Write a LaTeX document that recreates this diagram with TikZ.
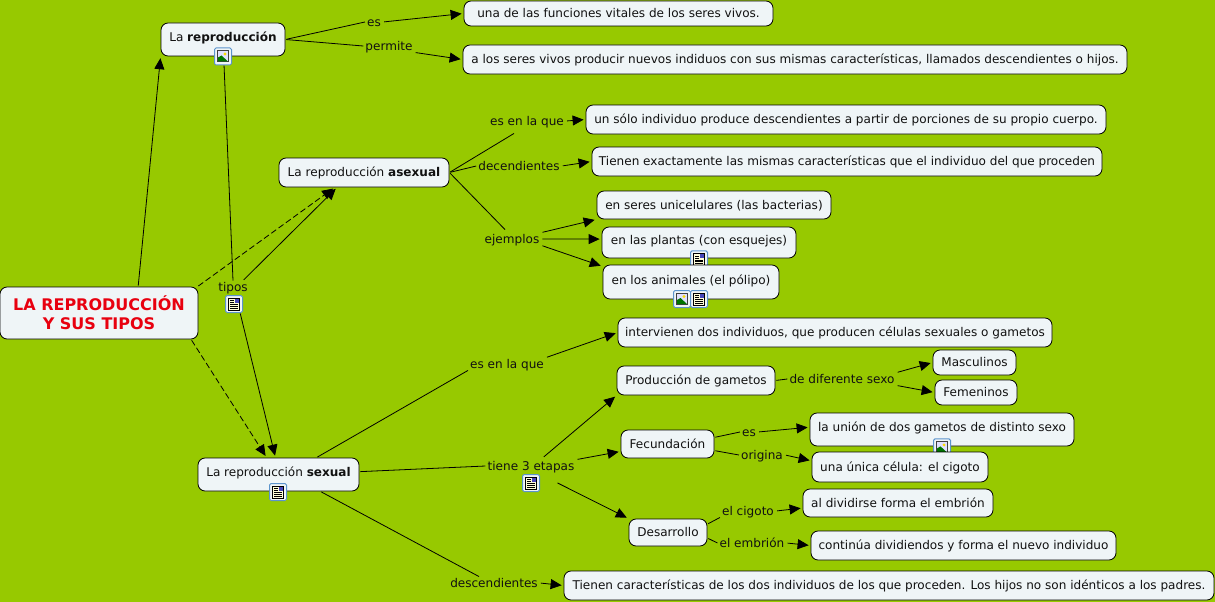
\documentclass[tikz,border=0pt]{standalone}
\usepackage{fontspec}
\setmainfont{DejaVu Sans}
\usepackage{tikz}
\usetikzlibrary{arrows.meta}
\definecolor{mapgreen}{HTML}{97C900}
\definecolor{boxpale}{HTML}{EFF5F7}
\definecolor{maptext}{HTML}{111111}
\definecolor{mapred}{HTML}{E8000F}
\definecolor{iconblue}{HTML}{5C94CC}
\tikzset{
  concept/.style={draw=black,fill=boxpale,rounded corners=2.5mm,line width=0.8pt,text=maptext,font=\fontsize{12.05}{14}\selectfont,inner sep=0pt,text height=8.5pt,text depth=0pt},
  withicon/.style={text depth=4pt},
  linklabel/.style={text=maptext,font=\fontsize{12.05}{14}\selectfont,inner sep=2pt,text height=8.5pt,text depth=0pt},
  link/.style={line width=0.8pt,shorten <=1pt},
  linkto/.style={link,-{Triangle[length=11pt,width=10pt]},shorten >=2pt},
  dashlink/.style={linkto,dash pattern=on 6pt off 3pt},
  imgicon/.pic={
    \draw[iconblue,fill=boxpale,rounded corners=1.5pt,line width=1pt] (-8.5,-8.5) rectangle (8.5,8.5);
    \fill[black!75] (-6,-6) rectangle (6,6);
    \fill[blue!12] (-5,-5) rectangle (5,5);
    \fill[yellow!80!orange] (2,-2.5) circle (1.6);
    \fill[green!45!black] (-5,5) -- (-5,1) -- (-1.5,-1) -- (5,5) -- cycle;
  },
  docicon/.pic={
    \draw[iconblue,fill=boxpale,rounded corners=1.5pt,line width=1pt] (-8.5,-8.5) rectangle (8.5,8.5);
    \draw[black,fill=yellow!15,line width=0.6pt] (-5.5,-6) rectangle (5.5,6);
    \fill[blue!45!gray] (0.5,-5.5) rectangle (5,-1);
    \foreach \y in {-3.5,-1.5}{\draw[black,line width=0.5pt] (-4,\y) -- (-0.5,\y);}
    \foreach \y in {0.5,2.2,3.9}{\draw[black,line width=0.5pt] (-4,\y) -- (4,\y);}
  }
}
\begin{document}
\begin{tikzpicture}[x=1pt,y=-1pt]
  \useasboundingbox (0,0) rectangle (1215,602);
  \fill[mapgreen] (0,0) rectangle (1215,602);
  % concepts
  \node[concept,minimum width=198pt,minimum height=52pt,align=center,text=mapred,font=\fontsize{16}{19}\selectfont\bfseries,text height=,text depth=] (main) at (99,313) {LA REPRODUCCIÓN\\Y SUS TIPOS};
  \node[concept,withicon,minimum width=124pt,minimum height=33pt] (repro) at (223,39.5) {La \textbf{reproducción}};
  \node[concept,minimum width=309pt,minimum height=25pt] (vitales) at (618.5,13.5) {una de las funciones vitales de los seres vivos.};
  \node[concept,minimum width=664pt,minimum height=29pt] (hijos) at (795,59.5) {a los seres vivos producir nuevos indiduos con sus mismas características, llamados descendientes o hijos.};
  \node[concept,minimum width=170pt,minimum height=29pt] (asexual) at (364,172.5) {La reproducción \textbf{asexual}};
  \node[concept,minimum width=520pt,minimum height=29pt] (porciones) at (846,119.5) {un sólo individuo produce descendientes a partir de porciones de su propio cuerpo.};
  \node[concept,minimum width=510pt,minimum height=29pt] (mismas) at (847,161.5) {Tienen exactamente las mismas características que el individuo del que proceden};
  \node[concept,minimum width=234pt,minimum height=28pt] (bacterias) at (714,205) {en seres unicelulares (las bacterias)};
  \node[concept,withicon,minimum width=194pt,minimum height=31pt] (plantas) at (699,242.5) {en las plantas (con esquejes)};
  \pic at ([yshift=-1pt]plantas.south) {docicon};
  \node[concept,withicon,minimum width=176pt,minimum height=34pt] (animales) at (691,282) {en los animales (el pólipo)};
  \node[concept,withicon,minimum width=161pt,minimum height=33pt] (sexual) at (278.5,474.5) {La reproducción \textbf{sexual}};
  \node[concept,minimum width=434pt,minimum height=29pt] (gametos) at (835,332.5) {intervienen dos individuos, que producen células sexuales o gametos};
  \node[concept,minimum width=158pt,minimum height=29pt] (produccion) at (696,380.5) {Producción de gametos};
  \node[concept,minimum width=83pt,minimum height=25pt] (masculinos) at (974.5,362.5) {Masculinos};
  \node[concept,minimum width=82pt,minimum height=25pt] (femeninos) at (976,392.5) {Femeninos};
  \node[concept,minimum width=93pt,minimum height=28pt] (fecundacion) at (667.5,444) {Fecundación};
  \node[concept,withicon,minimum width=264pt,minimum height=33pt] (union) at (942,429.5) {la unión de dos gametos de distinto sexo};
  \pic at ([yshift=-1pt]union.south) {imgicon};
  \node[concept,minimum width=176pt,minimum height=30pt] (cigoto) at (900,467) {una única célula: el cigoto};
  \node[concept,minimum width=78pt,minimum height=27pt] (desarrollo) at (668,532.5) {Desarrollo};
  \node[concept,minimum width=190pt,minimum height=28pt] (embrion) at (898,503) {al dividirse forma el embrión};
  \node[concept,minimum width=305pt,minimum height=29pt] (nuevo) at (963.5,545.5) {continúa dividiendos y forma el nuevo individuo};
  \node[concept,minimum width=650pt,minimum height=29pt] (padres) at (889,585.5) {Tienen características de los dos individuos de los que proceden. Los hijos no son idénticos a los padres.};
  % link labels
  \node[linklabel] (es) at (374,22) {es};
  \node[linklabel] (permite) at (389,46) {permite};
  \node[linklabel] (tipos) at (233,287) {tipos};
  \node[linklabel] (esenque) at (527,121) {es en la que};
  \node[linklabel] (decendientes) at (519,166) {decendientes};
  \node[linklabel] (ejemplos) at (512,239) {ejemplos};
  \node[linklabel] (esenquedos) at (507,364) {es en la que};
  \node[linklabel] (etapas) at (531,466) {tiene 3 etapas};
  \node[linklabel] (descendientes) at (494,583) {descendientes};
  \node[linklabel] (diferente) at (842,379) {de diferente sexo};
  \node[linklabel] (esfec) at (749,432) {es};
  \node[linklabel] (origina) at (762,455) {origina};
  \node[linklabel] (elcigoto) at (748,511) {el cigoto};
  \node[linklabel] (elembrion) at (752,543) {el embrión};
  % connectors
  \draw[linkto] (main.34) -- (repro.195);
  \draw[dashlink] (main.15) -- (asexual.207);
  \draw[dashlink] (main.-16) -- (sexual.125);
  \draw[link] ([shift={(1,8)}]repro.south) -- (tipos.north);
  \draw[linkto] ([shift={(10,0)}]tipos.north) -- (asexual.209);
  \draw[linkto] ([shift={(7,19)}]tipos.south) -- (sexual.100);
  \draw[link] (repro.east) -- (es.west);
  \draw[linkto] (es.east) -- (vitales.west);
  \draw[link] (repro.east) -- (permite.west);
  \draw[linkto] (permite.south east) -- (hijos.west);
  \draw[link] (asexual.east) -- ([shift={(-13,6)}]esenque.south);
  \draw[linkto] (esenque.east) -- (porciones.west);
  \draw[link] (asexual.east) -- (decendientes.west);
  \draw[linkto] (decendientes.east) -- (mismas.west);
  \draw[link] (asexual.east) -- ([shift={(-7,-3)}]ejemplos.north);
  \draw[linkto] (ejemplos.north east) -- (bacterias.south west);
  \draw[linkto] (ejemplos.east) -- (plantas.178);
  \draw[linkto] (ejemplos.south east) -- (animales.170);
  \draw[link] (sexual.24) -- (esenquedos.south west);
  \draw[linkto] (esenquedos.north east) -- (gametos.west);
  \draw[link] (sexual.2) -- (etapas.west);
  \draw[linkto] ([shift={(12,-2)}]etapas.north) -- (produccion.south west);
  \draw[linkto] (etapas.north east) -- (fecundacion.189);
  \draw[linkto] ([shift={(-20,10)}]etapas.south east) -- (desarrollo.north west);
  \draw[link] (sexual.-22) -- ([xshift=-15pt]descendientes.north);
  \draw[linkto] (descendientes.east) -- (padres.west);
  \draw[link] (produccion.east) -- (diferente.west);
  \draw[linkto] (diferente.north east) -- (masculinos.west);
  \draw[linkto] (diferente.south east) -- (femeninos.west);
  \draw[link] (fecundacion.8) -- (esfec.west);
  \draw[linkto] (esfec.east) -- (union.179);
  \draw[link] (fecundacion.-8) -- (origina.west);
  \draw[linkto] (origina.east) -- (cigoto.176);
  \draw[link] (desarrollo.12) -- (elcigoto.south west);
  \draw[linkto] (elcigoto.east) -- (embrion.183);
  \draw[link] (desarrollo.-8) -- (elembrion.west);
  \draw[linkto] (elembrion.east) -- (nuevo.west);
  % icons
  \pic at ([yshift=-17pt]repro.center) {imgicon};
  \pic at (234,304) {docicon};
  \pic at (682,299) {imgicon};
  \pic at (699,299) {docicon};
  \pic at (278,492) {docicon};
  \pic at (531,483) {docicon};
\end{tikzpicture}
\end{document}
